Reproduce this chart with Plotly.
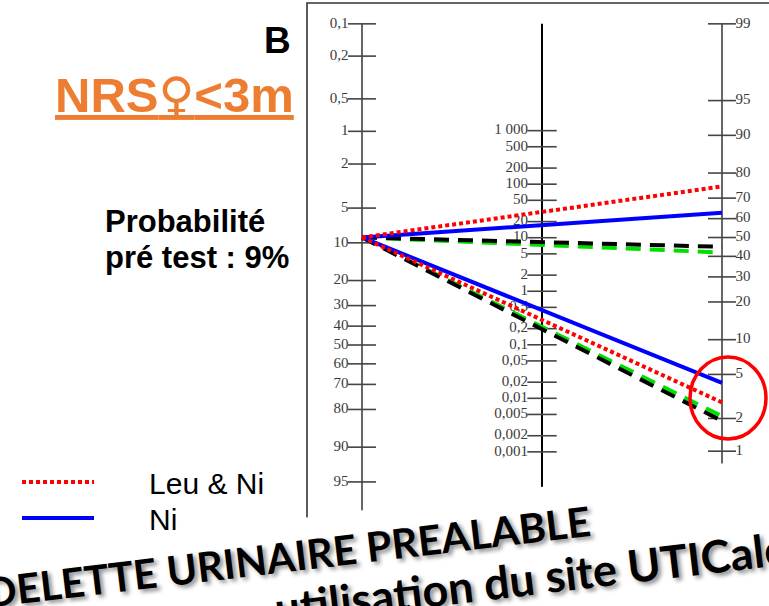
import numpy as np
import plotly.graph_objects as go

# ---------------- data ----------------
pretest_pct = 9
series_names = ["Leu & Ni", "Ni", "Leu", "Leu ou Ni"]
post_pos_pct = [75, 63, 45, 42]      # post-test probability, positive test
post_neg_pct = [2.8, 4.2, 1.9, 2.1]  # post-test probability, negative test
series_colors = ["#FF0000", "#0000FF", "#000000", "#00E000"]
series_dash = ["4px,3px", "solid", "15px,9px", "15px,9px"]
series_legend = ["legend", "legend2", None, None]

left_ticks = [0.1, 0.2, 0.5, 1, 2, 5, 10, 20, 30, 40, 50, 60, 70, 80, 90, 95]
left_labels = ["0,1", "0,2", "0,5", "1", "2", "5", "10", "20", "30", "40",
               "50", "60", "70", "80", "90", "95"]
mid_ticks = [1000, 500, 200, 100, 50, 20, 10, 5, 2, 1, 0.5, 0.2, 0.1,
             0.05, 0.02, 0.01, 0.005, 0.002, 0.001]
mid_labels = ["1 000", "500", "200", "100", "50", "20", "10", "5", "2", "1",
              "0,5", "0,2", "0,1", "0,05", "0,02", "0,01", "0,005", "0,002", "0,001"]
right_ticks = [99, 95, 90, 80, 70, 60, 50, 40, 30, 20, 10, 5, 2, 1]
right_labels = ["99", "95", "90", "80", "70", "60", "50", "40", "30", "20",
                "10", "5", "2", "1"]
scale_min_pct, scale_max_pct = 0.1, 99

# ---------------- nomogram scales ----------------
def logit(pct):
    p = np.asarray(pct, dtype=float) / 100.0
    return np.log(p / (1 - p))

K = logit(scale_min_pct) + logit(scale_max_pct)

def u_left(pct):
    return logit(pct)

def u_right(pct):
    return K - logit(pct)

def u_mid(lr):
    return (K - np.log(np.asarray(lr, dtype=float))) / 2.0

X_LEFT, X_MID, X_RIGHT = 0.0, 0.5, 1.0

fig = go.Figure()

axis_top = float(u_left(scale_min_pct))
axis_bot = float(u_left(scale_max_pct))
tick_font = dict(family="Liberation Serif, Times New Roman, serif", size=15, color="#3a3a3a")

for xa, col in [(X_LEFT, "#666666"), (X_MID, "#000000"), (X_RIGHT, "#666666")]:
    fig.add_trace(go.Scatter(x=[xa, xa], y=[axis_top, axis_bot], mode="lines",
                             line=dict(color=col, width=2), showlegend=False,
                             hoverinfo="skip"))

def tick_trace(xa, yv, labels, pos, size):
    return go.Scatter(x=[xa] * len(yv), y=list(yv), mode="markers+text",
                      text=labels, textposition=pos, textfont=tick_font,
                      marker=dict(symbol="line-ew", size=size, color="#444444",
                                  line=dict(width=1.6, color="#444444")),
                      showlegend=False, hoverinfo="skip", cliponaxis=False)

fig.add_trace(tick_trace(X_LEFT, u_left(left_ticks), left_labels, "middle left", 20))
fig.add_trace(tick_trace(X_MID, u_mid(mid_ticks), mid_labels, "middle left", 21))
fig.add_trace(tick_trace(X_RIGHT, u_right(right_ticks), right_labels, "middle right", 20))

# series lines (draw green, black, blue, red so red is on top)
u_pre = float(u_left(pretest_pct))
pad = "\u00a0" * 6
for i in [3, 2, 1, 0]:
    if series_legend[i]:
        kw = dict(showlegend=True, legend=series_legend[i])
    else:
        kw = dict(showlegend=False)
    fig.add_trace(go.Scatter(
        x=[X_LEFT, X_RIGHT, None, X_LEFT, X_RIGHT],
        y=[u_pre, float(u_right(post_pos_pct[i])), None, u_pre, float(u_right(post_neg_pct[i]))],
        mode="lines", name=pad + series_names[i],
        line=dict(color=series_colors[i], width=4, dash=series_dash[i]),
        hoverinfo="skip", **kw))

W, H = 769, 606
PX_X0, PX_PER_X = 362.0, 360.0
PX_Y0, PX_PER_U = 345.0, 46.5

def px(x):
    return x / W

def py(y):
    return 1 - y / H

shapes = [
    # frame of the pasted nomogram
    dict(type="rect", xref="paper", yref="paper", x0=px(307), x1=1.02, y0=-0.05, y1=py(3),
         line=dict(color="#333333", width=1.6), fillcolor="rgba(0,0,0,0)", layer="below"),
    # red highlight circle
    dict(type="circle", xref="x", yref="y",
         x0=(690 - PX_X0) / PX_PER_X, x1=(766 - PX_X0) / PX_PER_X,
         y0=(357 - PX_Y0) / PX_PER_U, y1=(439 - PX_Y0) / PX_PER_U,
         line=dict(color="#FF0000", width=3.5), layer="above"),
    # white pasted banner (tilted)
    dict(type="path", xref="paper", yref="paper",
         path=f"M {px(-5)},{py(558)} L {px(780)},{py(456)} L {px(780)},{py(620)} L {px(-5)},{py(620)} Z",
         fillcolor="#FFFFFF", line=dict(width=0), layer="above"),
]

arial = "Liberation Sans, Arial, sans-serif"
annotations = [
    dict(text="<b>B</b>", x=px(293), y=py(40), xanchor="right", yanchor="middle",
         font=dict(family=arial, size=37, color="#000000")),
    dict(text="<b><u>NRS<span style='font-family:DejaVu Sans'>♀</span><3m</u></b>",
         x=px(296), y=py(95), xanchor="right", yanchor="middle",
         font=dict(family=arial, size=49, color="#ED7D31")),
    dict(text="<b>Probabilité</b>", x=px(103), y=py(221), xanchor="left", yanchor="middle",
         font=dict(family=arial, size=31, color="#000000")),
    dict(text="<b>pré test : 9%</b>", x=px(103), y=py(257), xanchor="left", yanchor="middle",
         font=dict(family=arial, size=31, color="#000000")),
    dict(text="<b>BANDELETTE URINAIRE PREALABLE</b>", x=px(244), y=py(561),
         xanchor="center", yanchor="middle", textangle=-6.8,
         font=dict(family="Lato, Open Sans, sans-serif", size=41, color="#000000",
                   shadow="3px 3px 4px rgba(0,0,0,0.45)")),
    dict(text="<b>utilisation du site UTICalc</b>", x=px(530), y=py(578),
         xanchor="center", yanchor="middle", textangle=-6.8,
         font=dict(family="Lato, Open Sans, sans-serif", size=45, color="#000000",
                   shadow="3px 3px 4px rgba(0,0,0,0.45)")),
]
for a in annotations:
    a.update(xref="paper", yref="paper", showarrow=False)

legend_style = dict(xanchor="left", yanchor="middle",
                    font=dict(family=arial, size=30, color="#000000"),
                    itemwidth=72, bgcolor="rgba(0,0,0,0)")

fig.update_layout(
    width=W, height=H, margin=dict(l=0, r=0, t=0, b=0),
    paper_bgcolor="#FFFFFF", plot_bgcolor="#FFFFFF",
    xaxis=dict(range=[-PX_X0 / PX_PER_X, (W - PX_X0) / PX_PER_X], visible=False, fixedrange=True),
    yaxis=dict(range=[(H - PX_Y0) / PX_PER_U, -PX_Y0 / PX_PER_U], visible=False, fixedrange=True),
    shapes=shapes, annotations=annotations,
    legend=dict(x=px(17), y=py(482), **legend_style),
    legend2=dict(x=px(17), y=py(518), **legend_style),
    showlegend=True,
)

fig.write_html("out.html", config={"displayModeBar": False},
               post_script="document.body.style.margin='0';")
